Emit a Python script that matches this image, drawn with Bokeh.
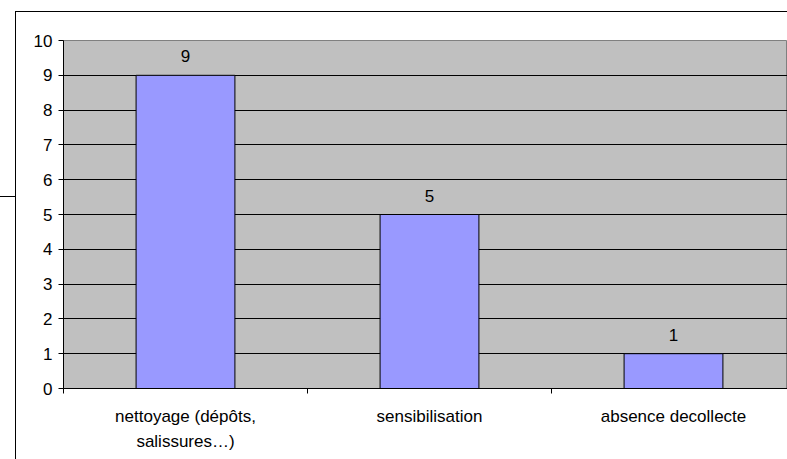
from bokeh.plotting import figure
from bokeh.models import ColumnDataSource, FixedTicker, Range1d
from bokeh.embed import file_html
from bokeh.resources import INLINE
from bokeh.core.properties import value

categories = ["nettoyage (dépôts,\nsalissures…)", "sensibilisation", "absence decollecte"]
counts = [9, 5, 1]
positions = [0, 1, 2]
y_ticks = [0, 1, 2, 3, 4, 5, 6, 7, 8, 9, 10]

FONT = "Liberation Sans"

p = figure(frame_width=724, frame_height=348, output_backend="svg", toolbar_location=None,
           x_range=Range1d(-0.5, -0.5 + 724 / 244), y_range=Range1d(0, 10),
           min_border_left=63, min_border_right=0, min_border_top=40, min_border_bottom=71)
p.background_fill_color = "#C0C0C0"
p.border_fill_color = "white"
p.outline_line_color = "#808080"
p.outline_line_width = 1

src = ColumnDataSource(dict(x=positions, top=counts, label=[str(c) for c in counts]))
p.vbar(x="x", top="top", bottom=0, width=0.405, source=src,
       fill_color="#9999FF", line_color="black", line_width=1)
p.text(x="x", y="top", text="label", source=src, text_align="center",
       text_baseline="alphabetic", y_offset=-19, text_font=value(FONT),
       text_font_size="17px", text_color="black")

# y axis
p.yaxis.ticker = FixedTicker(ticks=y_ticks)
p.yaxis.major_tick_out = 5
p.yaxis.major_tick_in = 0
p.yaxis.minor_tick_line_color = None
p.yaxis.major_label_standoff = 6
p.yaxis.axis_line_color = "black"
p.yaxis.major_tick_line_color = "black"
p.yaxis.major_label_text_font = FONT
p.yaxis.major_label_text_font_size = "17px"
p.yaxis.major_label_text_color = "black"

# x axis
p.xaxis.ticker = FixedTicker(ticks=positions, minor_ticks=[-0.5, 0.5, 1.5, 2.5])
p.xaxis.major_label_overrides = {i: c for i, c in zip(positions, categories)}
p.xaxis.major_tick_line_color = None
p.xaxis.major_tick_out = 0
p.xaxis.major_tick_in = 0
p.xaxis.minor_tick_out = 5
p.xaxis.minor_tick_in = 0
p.xaxis.minor_tick_line_color = "black"
p.xaxis.axis_line_color = "black"
p.xaxis.major_label_standoff = 13
p.xaxis.major_label_text_font = FONT
p.xaxis.major_label_text_font_size = "17px"
p.xaxis.major_label_text_color = "black"
p.xaxis.major_label_text_line_height = 1.35

p.xgrid.visible = False
p.ygrid.ticker = FixedTicker(ticks=y_ticks)
p.ygrid.grid_line_color = "black"
p.ygrid.grid_line_width = 1

# chart area border (continues beyond the visible window) and a stray connector line
p.stylesheets = [
    ":host { position: relative; }"
    ":host::after { content: ''; position: absolute; left: 15px; top: 11px; "
    "width: 900px; height: 600px; border-left: 1.5px solid #000; border-top: 1.5px solid #000; "
    "pointer-events: none; z-index: 5; box-sizing: border-box; }"
    ":host::before { content: ''; position: absolute; left: 0px; top: 196px; "
    "width: 15px; height: 0px; border-top: 1.5px solid #000; pointer-events: none; z-index: 6; }"
]
p.styles = {"overflow": "hidden"}

open("out.html", "w").write(file_html(p, INLINE))
